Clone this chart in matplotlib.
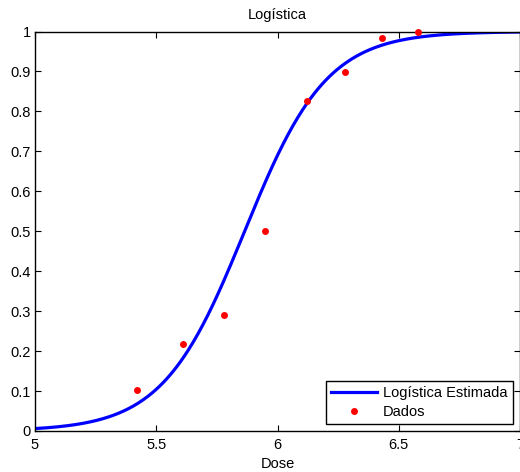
import numpy as np
import matplotlib
matplotlib.use("Agg")
import matplotlib.pyplot as plt

plt.rcParams['font.family'] = ['Liberation Sans', 'DejaVu Sans']

# dados observados (dose, proporcao)
dose = [5.42, 5.61, 5.78, 5.95, 6.12, 6.28, 6.43, 6.58]
prop = [0.102, 0.217, 0.290, 0.500, 0.825, 0.898, 0.984, 1.000]

# parametros da logistica estimada
alpha = -34.6
beta = 5.9

xgrid = np.linspace(5, 7, 400)
pfit = 1.0 / (1.0 + np.exp(-(alpha + beta * xgrid)))

fig = plt.figure(figsize=(5.2, 4.72), dpi=100)
ax = fig.add_axes([35/520, 41/472, 485/520, 399.5/472])

ax.plot(xgrid, pfit, color='#0000ff', lw=2.3, label='Logística Estimada', zorder=2)
ax.plot(dose, prop, 'o', color='#ff0000', ms=5, mec='none', label='Dados', zorder=3, clip_on=False)

ax.set_xlim(5, 7)
ax.set_ylim(0, 1)
ax.set_xticks([5, 5.5, 6, 6.5, 7])
ax.set_xticklabels(['5', '5.5', '6', '6.5', '7'])
ax.set_yticks(np.arange(0, 1.01, 0.1))
ax.set_yticklabels(['0', '0.1', '0.2', '0.3', '0.4', '0.5', '0.6', '0.7', '0.8', '0.9', '1'])
ax.tick_params(direction='in', length=4, width=0.8, top=True, right=True, labelsize=10.5)
ax.tick_params(axis='x', pad=5)
ax.tick_params(axis='y', pad=3)
for s in ax.spines.values():
    s.set_linewidth(1.0)

ax.set_title('Logística', fontsize=10.5, pad=9)
ax.set_xlabel('Dose', fontsize=10.5, labelpad=4)

leg = ax.legend(loc='lower right', fontsize=10.5, fancybox=False, edgecolor='black',
                framealpha=1, borderaxespad=0.5, handlelength=3.2, borderpad=0.35,
                labelspacing=0.3, handletextpad=0.4)
leg.get_frame().set_linewidth(1.0)

fig.savefig('out.png', dpi=100)
